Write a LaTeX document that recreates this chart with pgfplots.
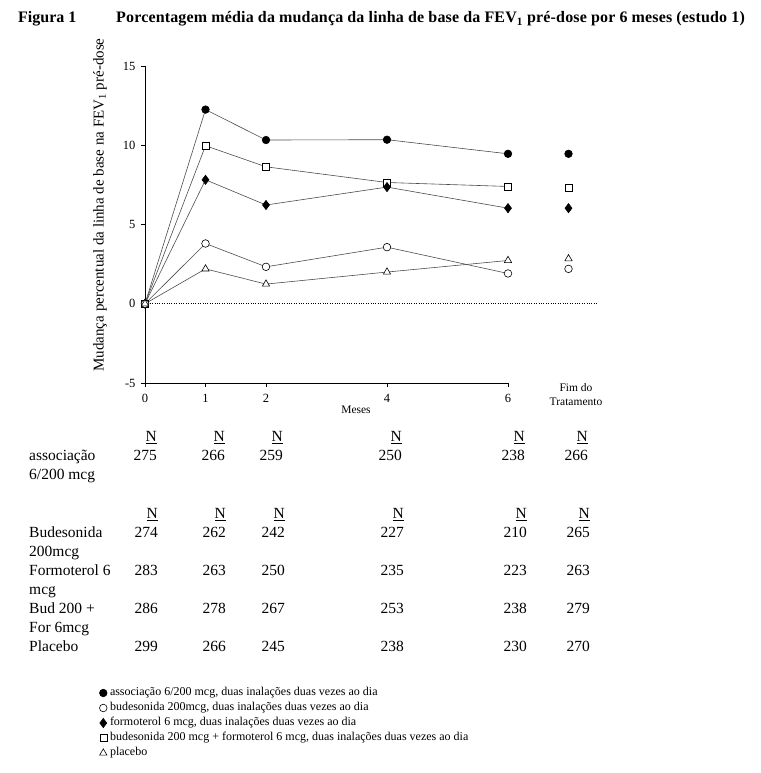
\documentclass[border=0pt]{standalone}
\usepackage{fontspec}
\setmainfont{Liberation Serif}
\usepackage{pgfplots}
\pgfplotsset{compat=1.18}
\begin{document}
\begin{tikzpicture}[x=1pt,y=1pt]
\path[use as bounding box] (0,0) rectangle (760,773);
% title
\node[anchor=base west, inner sep=0, font=\fontsize{16}{18}\selectfont\bfseries] at (18,750) {Figura 1};
\node[anchor=base west, inner sep=0, font=\fontsize{16}{18}\selectfont\bfseries] at (116,750) {\addfontfeature{LetterSpace=1}Porcentagem média da mudança da linha de base da FEV\textsubscript{1} pré-dose por 6 meses (estudo 1)};
\begin{axis}[
  at={(145pt,390pt)}, anchor=south west,
  scale only axis, width=363pt, height=317pt,
  xmin=0, xmax=6, ymin=-5, ymax=15,
  axis x line*=bottom, axis y line*=left,
  axis line style={-, line width=0.7pt},
  xtick={0,1,2,4,6}, ytick={-5,0,5,10,15},
  tick align=outside, major tick length=4pt,
  tick style={line width=0.6pt, black},
  clip=false,
  /pgf/number format/assume math mode=true,
  tick label style={font=\fontsize{12.5}{13}\selectfont},
  xticklabel style={yshift=-4pt},
  yticklabel style={xshift=-2pt},
  lin/.style={draw=black!70, line width=0.6pt},
  sA/.style={mark=*, mark size=3.8pt, mark options={solid, line width=0.6pt, fill=black, draw=black}},
  sB/.style={mark=*, mark size=3.8pt, mark options={solid, line width=0.6pt, fill=white, draw=black}},
  sC/.style={mark=diamond*, mark size=4.6pt, mark options={solid, line width=0.6pt, fill=black, draw=black}},
  sD/.style={mark=square*, mark size=3.5pt, mark options={solid, line width=0.6pt, fill=white, draw=black}},
  sE/.style={mark=triangle*, mark size=4.2pt, mark options={solid, line width=0.6pt, fill=white, draw=black}},
  legend style={at={(axis description cs:-0.127,-0.956)}, anchor=north west, draw=none, fill=none, inner sep=0pt,
    font=\fontsize{12}{13}\selectfont, row sep=1.5pt, nodes={inner sep=1.5pt, text height=8pt, text depth=2.5pt}},
  legend cell align=left,
  legend image code/.code={\draw[#1] plot coordinates {(4pt,0pt)}; \path (0pt,0pt) (9pt,0pt);},
]
\addplot[black, line width=0.5pt, dash pattern=on 0.8pt off 1.6pt, forget plot] coordinates {(0,0) (7.47,0)};
\addplot[lin, sA, forget plot] coordinates {(0,0) (1,12.25) (2,10.33) (4,10.35) (6,9.46)};
\addplot[lin, sD, forget plot] coordinates {(0,0) (1,9.97) (2,8.64) (4,7.65) (6,7.4)};
\addplot[lin, sC, forget plot] coordinates {(0,0) (1,7.82) (2,6.23) (4,7.36) (6,6.03)};
\addplot[lin, sB, forget plot] coordinates {(0,0) (1,3.8) (2,2.33) (4,3.57) (6,1.91)};
\addplot[lin, sE, forget plot] coordinates {(0,0) (1,2.2) (2,1.24) (4,2.0) (6,2.73)};
% Fim do tratamento
\addplot[only marks, sA] coordinates {(7,9.46)};
\addlegendentry{associação 6/200 mcg, duas inalações duas vezes ao dia}
\addplot[only marks, sB] coordinates {(7,2.2)};
\addlegendentry{budesonida 200mcg, duas inalações duas vezes ao dia}
\addplot[only marks, sC] coordinates {(7,6.03)};
\addlegendentry{formoterol 6 mcg, duas inalações duas vezes ao dia}
\addplot[only marks, sD] coordinates {(7,7.3)};
\addlegendentry{budesonida 200 mcg + formoterol 6 mcg, duas inalações duas vezes ao dia}
\addplot[only marks, sE] coordinates {(7,2.84)};
\addlegendentry{placebo}
\end{axis}
% axis labels
\node[rotate=90, inner sep=0, font=\fontsize{15}{17}\selectfont] at (100,568) {Mudança percentual da linha de base na FEV\textsubscript{1} pré-dose};
\node[inner sep=0, font=\fontsize{11.5}{12}\selectfont] at (356,363) {Meses};
\node[anchor=base, inner sep=0, font=\fontsize{11.5}{13}\selectfont] at (576,381) {Fim do};
\node[anchor=base, inner sep=0, font=\fontsize{11.5}{13}\selectfont] at (576,367) {Tratamento};
% table
\begin{scope}[every node/.style={inner sep=0, font=\fontsize{15.5}{18}\selectfont}]
\foreach \x in {157,225,283,402,525,588} \node[anchor=base east] at (\x,331) {\underline{N}};
\node[anchor=base west] at (29,312) {associação};
\node[anchor=base west] at (29,293) {6/200 mcg};
\foreach \x/\v in {157/275,225/266,283/259,402/250,525/238,588/266} \node[anchor=base east] at (\x,312) {\v};
\foreach \x in {158,226,285,404,527,590} \node[anchor=base east] at (\x,254) {\underline{N}};
\node[anchor=base west] at (29,235) {Budesonida};
\node[anchor=base west] at (29,216) {200mcg};
\node[anchor=base west] at (29,197) {Formoterol 6};
\node[anchor=base west] at (29,178) {mcg};
\node[anchor=base west] at (29,159) {Bud 200 +};
\node[anchor=base west] at (29,140) {For 6mcg};
\node[anchor=base west] at (29,121) {Placebo};
\foreach \x/\v in {158/274,226/262,285/242,404/227,527/210,590/265} \node[anchor=base east] at (\x,235) {\v};
\foreach \x/\v in {158/283,226/263,285/250,404/235,527/223,590/263} \node[anchor=base east] at (\x,197) {\v};
\foreach \x/\v in {158/286,226/278,285/267,404/253,527/238,590/279} \node[anchor=base east] at (\x,159) {\v};
\foreach \x/\v in {158/299,226/266,285/245,404/238,527/230,590/270} \node[anchor=base east] at (\x,121) {\v};
\end{scope}
\end{tikzpicture}
\end{document}
